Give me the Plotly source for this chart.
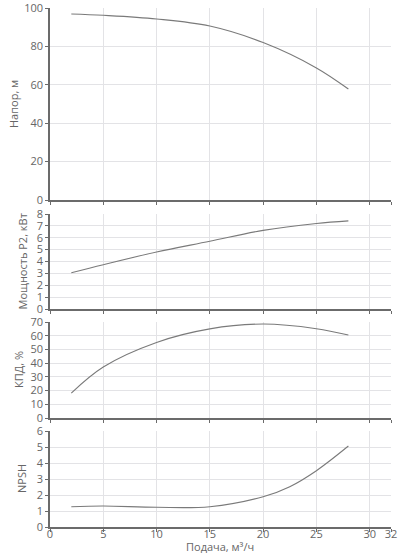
import plotly.graph_objects as go
from plotly.subplots import make_subplots

flow = [2, 5, 10, 15, 20, 25, 28]
head = [96.9, 96.2, 94.3, 90.6, 82.0, 68.8, 57.8]
power = [3.05, 3.73, 4.8, 5.7, 6.62, 7.2, 7.42]
eff = [18.2, 37.2, 55.1, 65.0, 68.5, 65.1, 60.5]
npsh_flow = [2, 5, 10, 15, 20, 22.5, 25, 28]
npsh = [1.27, 1.31, 1.23, 1.27, 1.89, 2.52, 3.52, 5.06]

x_ticks = [0, 5, 10, 15, 20, 25, 30, 32]
y_titles = ["Напор, м", "Мощность P2, кВт", "КПД, %", "NPSH"]
y_ticks = [[0, 20, 40, 60, 80, 100], [0, 1, 2, 3, 4, 5, 6, 7, 8],
           [0, 10, 20, 30, 40, 50, 60, 70], [0, 1, 2, 3, 4, 5, 6]]

W, H = 400, 554
ML, MR, MT, MB = 50, 9, 8, 27
pw = W - ML - MR
ph = H - MT - MB

def py(px):
    return (H - MB - px) / ph

domains = [[py(200), py(8)], [py(309), py(214)], [py(418), py(322)], [py(527), py(431)]]

fig = make_subplots(rows=4, cols=1, shared_xaxes=False)
series = [(flow, head), (flow, power), (flow, eff), (npsh_flow, npsh)]
for i, (xs, ys) in enumerate(series):
    fig.add_trace(go.Scatter(x=xs, y=ys, mode="lines",
                             line=dict(color="#7a7a7a", width=1.1, shape="spline", smoothing=1.0),
                             showlegend=False, hoverinfo="skip"), row=i + 1, col=1)

font_color = "#666666"
for i in range(4):
    xa = "xaxis" if i == 0 else f"xaxis{i+1}"
    ya = "yaxis" if i == 0 else f"yaxis{i+1}"
    fig.layout[xa].update(range=[0, 32], tickmode="array", tickvals=x_ticks, showticklabels=(i == 3),
                          showgrid=True, gridcolor="#e3e3e6", gridwidth=1,
                          showline=True, linecolor="#6b6b6b", linewidth=1.5,
                          ticks="outside", ticklen=3, tickcolor="#6b6b6b",
                          ticklabelstandoff=-7, ticklabeloverflow="allow",
                          zeroline=False, tickfont=dict(size=11, color=font_color),
                          automargin=False, fixedrange=True)
    top = y_ticks[i][-1]
    fig.layout[ya].update(range=[0, top], tickmode="array", tickvals=y_ticks[i], domain=domains[i],
                          showgrid=True, gridcolor="#e3e3e6", gridwidth=1,
                          showline=True, linecolor="#6b6b6b", linewidth=1.5,
                          ticks="outside", ticklen=3, tickcolor="#6b6b6b",
                          ticklabeloverflow="allow",
                          zeroline=False, tickfont=dict(size=11, color=font_color),
                          automargin=False, fixedrange=True)

title_px = [13, 22, 18, 21]
for i in range(4):
    d = domains[i]
    fig.add_annotation(text=y_titles[i], xref="paper", yref="paper",
                       x=(title_px[i] - ML) / pw, y=(d[0] + d[1]) / 2,
                       textangle=-90, showarrow=False, xanchor="center", yanchor="middle",
                       font=dict(size=11, color=font_color))

fig.add_annotation(text="Подача, м³/ч", xref="paper", yref="paper",
                   x=(220 - ML) / pw, y=py(546), showarrow=False,
                   xanchor="center", yanchor="middle", font=dict(size=11, color=font_color))

fig.update_layout(width=W, height=H, margin=dict(l=ML, r=MR, t=MT, b=MB),
                  paper_bgcolor="white", plot_bgcolor="white",
                  font=dict(family="Open Sans", size=11, color=font_color))

fig.write_html("out.html", config={"displayModeBar": False})
